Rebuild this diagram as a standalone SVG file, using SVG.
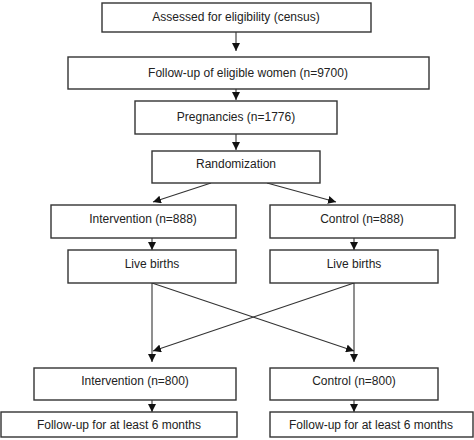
<svg xmlns="http://www.w3.org/2000/svg" width="474" height="440" viewBox="0 0 474 440">
<style>
.box{fill:#fff;stroke:#333;stroke-width:1.4}
.t{font-family:"Liberation Sans",Arial,sans-serif;font-size:12px;fill:#222;text-anchor:middle;dominant-baseline:central}
.c{stroke:#333;stroke-width:1.1;fill:none;marker-end:url(#ah)}
</style>
<defs>
<marker id="ah" viewBox="0 0 10 10" refX="10" refY="5" markerWidth="8" markerHeight="8" markerUnits="userSpaceOnUse" orient="auto">
<path d="M0,0 L10,5 L0,10 z" fill="#111"/>
</marker>
</defs>
<rect width="474" height="440" fill="#fff"/>
<g id="connectors">
<line class="c" x1="236" y1="32" x2="236" y2="51"/>
<line class="c" x1="236" y1="89" x2="236" y2="100"/>
<line class="c" x1="236" y1="134" x2="236" y2="150"/>
<line class="c" x1="211" y1="183" x2="153" y2="202"/>
<line class="c" x1="267" y1="183" x2="336" y2="202"/>
<line class="c" x1="152" y1="238" x2="152" y2="250"/>
<line class="c" x1="354" y1="238" x2="354" y2="250"/>
<line class="c" x1="152" y1="283" x2="152" y2="362"/>
<line class="c" x1="354" y1="283" x2="354" y2="362"/>
<line class="c" x1="152" y1="283" x2="354" y2="351"/>
<line class="c" x1="354" y1="283" x2="153" y2="351"/>
<line class="c" x1="152" y1="400" x2="152" y2="412"/>
<line class="c" x1="354" y1="387" x2="354" y2="412"/>
</g>
<g id="n1"><rect class="box" x="102" y="3" width="269" height="29"/><text class="t" x="236" y="17">Assessed for eligibility (census)</text></g>
<g id="n2"><rect class="box" x="68" y="57" width="361" height="32"/><text class="t" x="248" y="73">Follow-up of eligible women (n=9700)</text></g>
<g id="n3"><rect class="box" x="135" y="101" width="202" height="33"/><text class="t" x="236" y="117">Pregnancies (n=1776)</text></g>
<g id="n4"><rect class="box" x="152" y="151" width="168" height="32"/><text class="t" x="236" y="164">Randomization</text></g>
<g id="n5"><rect class="box" x="51" y="205" width="185" height="33"/><text class="t" x="143" y="219">Intervention (n=888)</text></g>
<g id="n6"><rect class="box" x="270" y="205" width="185" height="33"/><text class="t" x="362" y="219">Control (n=888)</text></g>
<g id="n7"><rect class="box" x="68" y="250" width="168" height="33"/><text class="t" x="152" y="264">Live births</text></g>
<g id="n8"><rect class="box" x="270" y="250" width="168" height="33"/><text class="t" x="354" y="264">Live births</text></g>
<g id="n9"><rect class="box" x="34" y="368" width="202" height="32"/><text class="t" x="135" y="381">Intervention (n=800)</text></g>
<g id="n10"><rect class="box" x="270" y="368" width="168" height="32"/><text class="t" x="354" y="381">Control (n=800)</text></g>
<g id="n11"><rect class="box" x="1" y="412" width="236" height="25"/><text class="t" x="119" y="425">Follow-up for at least 6 months</text></g>
<g id="n12"><rect class="box" x="270" y="412" width="203" height="25"/><text class="t" x="371" y="425">Follow-up for at least 6 months</text></g>
</svg>
